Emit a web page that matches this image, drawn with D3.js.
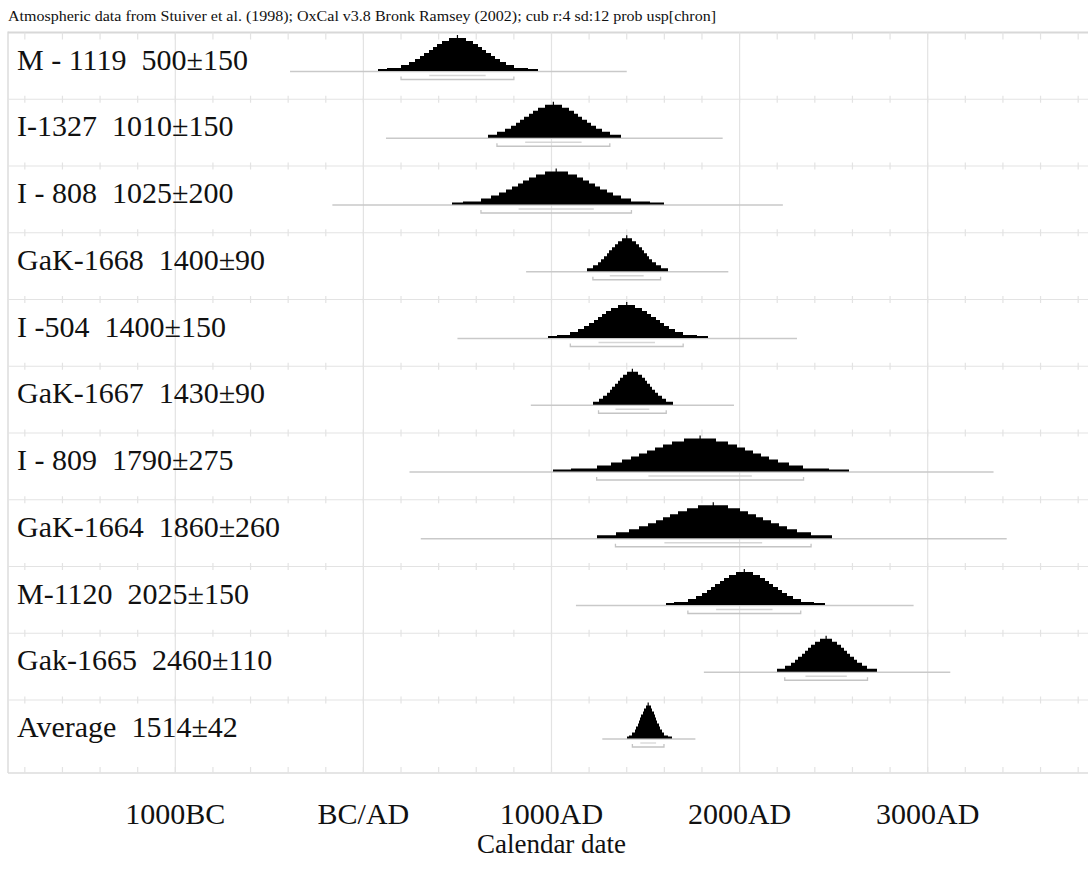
<!DOCTYPE html>
<html>
<head>
<meta charset="utf-8">
<script src="https://cdn.jsdelivr.net/npm/d3@7"></script>
<style>
  body { margin: 0; background: #fff; }
  svg text { font-family: "Liberation Serif", "Times New Roman", serif; fill: #111; }
</style>
</head>
<body>
<svg id="chart" width="1088" height="880"></svg>
<script>
// samples and their dates (mean ± sd, calendar years)
const samples = ["M - 1119", "I-1327", "I - 808", "GaK-1668", "I -504", "GaK-1667",
                 "I - 809", "GaK-1664", "M-1120", "Gak-1665", "Average"];
const means = [500, 1010, 1025, 1400, 1400, 1430, 1790, 1860, 2025, 2460, 1514];
const sds = [150, 150, 200, 90, 150, 90, 275, 260, 150, 110, 42];
// where the black part of each distribution starts / ends
const solidFrom = [80, 660, 470, 1190, 980, 1220, 1010, 1240, 1610, 2200, 1400];
const solidTo = [930, 1370, 1600, 1620, 1830, 1645, 2580, 2490, 2455, 2730, 1640];
// thin grey calculation span under each distribution
const spanFrom = [-390, 120, -165, 865, 500, 890, 245, 305, 1130, 1810, 1270];
const spanTo = [1400, 1910, 2230, 1940, 2305, 1970, 3350, 3420, 2925, 3120, 1765];

const tickYears = [-1000, 0, 1000, 2000, 3000];
const tickLabels = ["1000BC", "BC/AD", "1000AD", "2000AD", "3000AD"];
const header = "Atmospheric data from Stuiver et al. (1998); OxCal v3.8 Bronk Ramsey (2002); cub r:4 sd:12 prob usp[chron]";

const svg = d3.select("#chart");
const W = 1088;
const plotLeft = 8, plotTop = 32.5, rowH = 66.75, plotBottom = 773;

const x = d3.scaleLinear().domain([-1000, 3000]).range([175.3, 927.7]);
const rows = d3.scaleBand().domain(d3.range(samples.length))
  .range([plotTop, plotTop + rowH * samples.length]);
const h = d3.scaleLinear().domain([0, 1]).range([0, 33]);

const grid = "#e3e3e3";

// header
svg.append("text")
  .attr("x", 8).attr("y", 21)
  .attr("font-size", 15)
  .attr("textLength", 708).attr("lengthAdjust", "spacingAndGlyphs")
  .text(header);

// frame + grid
const g = svg.append("g");
const minorYears = d3.range(-1800, 3901, 200);

g.selectAll(".vline").data(tickYears).join("line")
  .attr("x1", d => x(d)).attr("x2", d => x(d))
  .attr("y1", plotTop).attr("y2", plotBottom)
  .attr("stroke", grid).attr("stroke-width", 1.2);

g.append("line").attr("x1", plotLeft).attr("x2", plotLeft).attr("y1", plotTop - 1).attr("y2", plotBottom)
  .attr("stroke", "#dcdcdc").attr("stroke-width", 1.5);

const hLines = d3.range(samples.length).map(i => rows(i));
g.selectAll(".hline").data(hLines).join("line")
  .attr("x1", plotLeft).attr("x2", W)
  .attr("y1", d => d).attr("y2", d => d)
  .attr("stroke", (d, i) => i === 0 ? "#d8d8d8" : grid)
  .attr("stroke-width", (d, i) => i === 0 ? 2 : 1.2);
g.append("line").attr("x1", plotLeft).attr("x2", W).attr("y1", plotBottom).attr("y2", plotBottom)
  .attr("stroke", "#dcdcdc").attr("stroke-width", 1.5);

// minor ticks on each row line
hLines.forEach((yy, i) => {
  g.append("g").selectAll("line").data(minorYears).join("line")
    .attr("x1", d => x(d)).attr("x2", d => x(d))
    .attr("y1", i === 0 ? yy : yy - 3.5).attr("y2", yy + (i === 0 ? 7 : 3.5))
    .attr("stroke", grid).attr("stroke-width", 1.2);
});
g.append("g").selectAll("line").data(minorYears).join("line")
  .attr("x1", d => x(d)).attr("x2", d => x(d))
  .attr("y1", plotBottom - 6).attr("y2", plotBottom)
  .attr("stroke", grid).attr("stroke-width", 1.2);

// distributions
const area = d3.area().curve(d3.curveStepAfter)
  .x(d => d.px).y0(d => d.base).y1(d => d.base - d.hq);

samples.forEach((name, i) => {
  const base = rows(i) + 38.5;
  const m = means[i], s = sds[i];
  const row = svg.append("g");

  row.append("text")
    .attr("x", 17).attr("y", base - 1.5)
    .attr("font-size", 30)
    .style("white-space", "pre")
    .text(name + "  " + m + "\u00b1" + s);

  // range lines
  row.append("line")
    .attr("x1", x(spanFrom[i])).attr("x2", x(spanTo[i]))
    .attr("y1", base + 0.5).attr("y2", base + 0.5)
    .attr("stroke", "#c9c9c9").attr("stroke-width", 1.5);

  row.append("line")
    .attr("x1", x(m - s)).attr("x2", x(m + s))
    .attr("y1", base + 4.5).attr("y2", base + 4.5)
    .attr("stroke", "#d6d6d6").attr("stroke-width", 1.3);

  const y95 = base + 8.5;
  row.append("path")
    .attr("d", `M${x(m - 2 * s)},${y95 - 3}V${y95}H${x(m + 2 * s)}V${y95 - 3}`)
    .attr("fill", "none").attr("stroke", "#c4c4c4").attr("stroke-width", 1.3);

  // stepped probability
  const x0 = Math.round(x(solidFrom[i])), x1 = Math.round(x(solidTo[i]));
  const pts = d3.range(x0, x1 + 1).map(px => {
    const z = (x.invert(px + 0.5) - m) / s;
    const v = h(Math.exp(-0.5 * z * z));
    return { px, base, hq: Math.max(2, Math.round(v / 3) * 3) };
  });
  row.append("path").datum(pts)
    .attr("d", area).attr("fill", "#000");

  row.append("line")
    .attr("x1", x(m)).attr("x2", x(m))
    .attr("y1", base - h(1) - 3).attr("y2", base - h(1) + 1)
    .attr("stroke", "#000").attr("stroke-width", 1.2);
});

// axis labels
svg.selectAll(".xlab").data(tickYears).join("text")
  .attr("x", d => x(d)).attr("y", 824)
  .attr("text-anchor", "middle").attr("font-size", 30)
  .text((d, i) => tickLabels[i]);

svg.append("text")
  .attr("x", x(1000)).attr("y", 853)
  .attr("text-anchor", "middle").attr("font-size", 27)
  .text("Calendar date");
</script>
</body>
</html>
